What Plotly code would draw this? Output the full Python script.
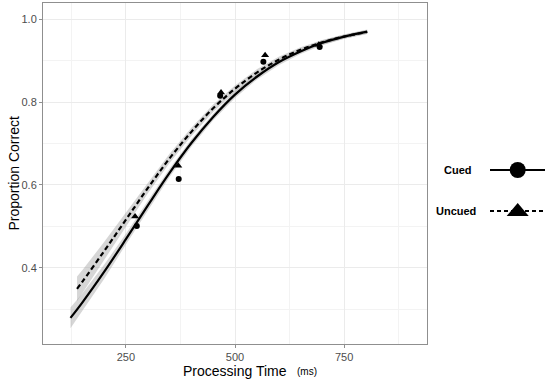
import plotly.graph_objects as go

# ---- data ----
# observed proportions
cued_time = [275, 371, 466, 565, 694]
cued_prop = [0.501, 0.614, 0.815, 0.897, 0.933]
uncued_time = [271, 370, 468, 569, 692]
uncued_prop = [0.524, 0.646, 0.823, 0.913, 0.938]

# fitted curves
cued_fit_time = [123, 150, 200, 250, 300, 350, 400, 450, 500, 550, 600, 650, 700, 750, 803]
cued_fit_prop = [0.279, 0.316, 0.390, 0.469, 0.550, 0.629, 0.701, 0.764, 0.818, 0.861, 0.896, 0.922, 0.943, 0.958, 0.970]
cued_fit_se = [0.025, 0.022, 0.017, 0.013, 0.011, 0.010, 0.009, 0.008, 0.008, 0.007, 0.007, 0.006, 0.006, 0.005, 0.005]

uncued_fit_time = [138, 150, 200, 250, 300, 350, 400, 450, 500, 550, 600, 650, 700, 750, 803]
uncued_fit_prop = [0.349, 0.366, 0.440, 0.516, 0.592, 0.664, 0.728, 0.785, 0.832, 0.871, 0.902, 0.926, 0.944, 0.958, 0.969]
uncued_fit_se = [0.030, 0.028, 0.022, 0.017, 0.013, 0.011, 0.010, 0.009, 0.008, 0.008, 0.007, 0.006, 0.006, 0.005, 0.005]

x_ticks = [250, 500, 750]
y_ticks = [0.4, 0.6, 0.8, 1.0]
y_tick_labels = ["0.4", "0.6", "0.8", "1.0"]

FONT = "Liberation Sans, Arial, sans-serif"
RIB = "rgba(153,153,153,0.4)"

fig = go.Figure()


def ribbon(t, p, se):
    up = [a + b for a, b in zip(p, se)]
    lo = [a - b for a, b in zip(p, se)]
    return go.Scatter(x=t + t[::-1], y=up + lo[::-1], fill="toself", fillcolor=RIB,
                      line=dict(width=0), mode="lines", hoverinfo="skip", showlegend=False)


fig.add_trace(ribbon(cued_fit_time, cued_fit_prop, cued_fit_se))
fig.add_trace(ribbon(uncued_fit_time, uncued_fit_prop, uncued_fit_se))

fig.add_trace(go.Scatter(x=cued_fit_time, y=cued_fit_prop, mode="lines",
                         line=dict(color="black", width=2.2, shape="spline"), showlegend=False))
fig.add_trace(go.Scatter(x=uncued_fit_time, y=uncued_fit_prop, mode="lines",
                         line=dict(color="black", width=2.2, dash="5px,3px", shape="spline"), showlegend=False))

fig.add_trace(go.Scatter(x=cued_time, y=cued_prop, mode="markers",
                         marker=dict(symbol="circle", size=6, color="black"), showlegend=False))
fig.add_trace(go.Scatter(x=uncued_time, y=uncued_prop, mode="markers",
                         marker=dict(symbol="triangle-up", size=7, color="black"), showlegend=False))

axis_common = dict(
    showline=True, linecolor="#8f8f8f", linewidth=1, mirror=True,
    ticks="outside", ticklen=3, tickcolor="#8f8f8f", tickwidth=1,
    showgrid=True, gridcolor="#ebebeb", gridwidth=1,
    zeroline=False,
    tickfont=dict(family=FONT, size=11, color="#4d4d4d"),
)

fig.update_xaxes(range=[60, 940], tickvals=x_ticks, ticktext=[str(v) for v in x_ticks],
                 minor=dict(tickvals=[125, 375, 625, 875], showgrid=True, gridcolor="#f3f3f3",
                            gridwidth=0.6, ticks=""),
                 **axis_common)
fig.update_yaxes(range=[0.216, 1.039], tickvals=y_ticks, ticktext=y_tick_labels,
                 minor=dict(tickvals=[0.3, 0.5, 0.7, 0.9], showgrid=True, gridcolor="#f3f3f3",
                            gridwidth=0.6, ticks=""),
                 **axis_common)

annotations = [
    dict(text="Proportion Correct", xref="paper", yref="paper", x=-0.078, y=0.5,
         textangle=-90, showarrow=False, xanchor="center", yanchor="middle",
         font=dict(family=FONT, size=14, color="black")),
    dict(text="Processing Time", xref="paper", yref="paper", x=0.5, y=-0.079,
         showarrow=False, xanchor="center", yanchor="middle",
         font=dict(family=FONT, size=14, color="black")),
    dict(text="(ms)", xref="paper", yref="paper", x=(306.5 - 43) / 384, y=-0.081,
         showarrow=False, xanchor="center", yanchor="middle",
         font=dict(family=FONT, size=10, color="black")),
    dict(text="<b>Cued</b>", xref="paper", yref="paper", x=(458 - 43) / 384, y=(344 - 170) / 341,
         showarrow=False, xanchor="center", yanchor="middle",
         font=dict(family=FONT, size=11, color="black")),
    dict(text="<b>Uncued</b>", xref="paper", yref="paper", x=(456 - 43) / 384, y=(344 - 211) / 341,
         showarrow=False, xanchor="center", yanchor="middle",
         font=dict(family=FONT, size=11, color="black")),
]

lx0 = (490 - 43) / 384
lx1 = (545 - 43) / 384
lxc = (517.7 - 43) / 384
ly1 = (344 - 170) / 341
ly2 = (344 - 211) / 341

shapes = [
    dict(type="line", xref="paper", yref="paper", x0=lx0, x1=lx1, y0=ly1, y1=ly1,
         line=dict(color="black", width=2)),
    dict(type="circle", xref="paper", yref="paper", xsizemode="pixel", ysizemode="pixel",
         xanchor=lxc, yanchor=ly1, x0=-8, x1=8, y0=-8, y1=8,
         fillcolor="black", line=dict(color="black", width=0)),
    dict(type="line", xref="paper", yref="paper", x0=lx0, x1=lx1, y0=ly2, y1=ly2,
         line=dict(color="black", width=2, dash="4px,3px")),
    dict(type="path", xref="paper", yref="paper", xsizemode="pixel", ysizemode="pixel",
         xanchor=lxc, yanchor=ly2, path="M-11,-5 L11,-5 L0,8 Z",
         fillcolor="black", line=dict(color="black", width=0)),
]

fig.update_layout(
    width=550, height=381,
    margin=dict(l=43, r=123, t=3, b=37),
    plot_bgcolor="white", paper_bgcolor="white",
    font=dict(family=FONT),
    showlegend=False,
    annotations=annotations,
    shapes=shapes,
)

fig.write_html("out.html", config={"displayModeBar": False},
               post_script="document.body.style.margin='0';document.body.style.overflow='hidden';")
